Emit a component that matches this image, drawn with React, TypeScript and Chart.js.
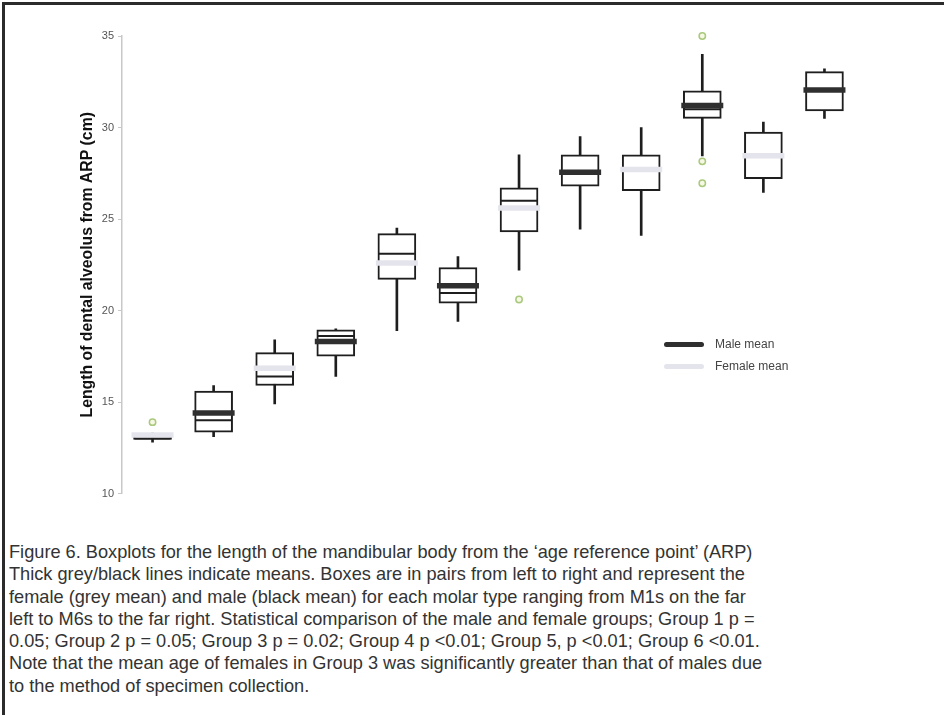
import React, { useEffect, useRef } from 'react';
import { Chart, registerables } from 'chart.js';

Chart.register(...registerables);

// Boxes in pairs: female then male for each molar type M1..M6
const CATEGORIES = ['M1 F', 'M1 M', 'M2 F', 'M2 M', 'M3 F', 'M3 M', 'M4 F', 'M4 M', 'M5 F', 'M5 M', 'M6 F', 'M6 M'];
const SEX = ['F', 'M', 'F', 'M', 'F', 'M', 'F', 'M', 'F', 'M', 'F', 'M'];
const WHISKER_LOW = [12.8, 13.1, 14.9, 16.4, 18.9, 19.4, 22.2, 24.45, 24.1, 28.45, 26.45, 30.5];
const Q1 = [12.95, 13.35, 15.9, 17.5, 21.7, 20.4, 24.3, 26.8, 26.55, 30.5, 27.2, 30.9];
const MEDIAN = [13.0, 14.0, 16.4, 18.6, 23.1, 20.95, 26.0, 27.55, 27.7, 31.0, 28.45, 32.05];
const Q3 = [13.1, 15.6, 17.7, 18.95, 24.2, 22.35, 26.7, 28.5, 28.5, 32.0, 29.75, 33.05];
const WHISKER_HIGH = [13.3, 15.9, 18.4, 19.0, 24.5, 22.95, 28.5, 29.5, 30.0, 34.0, 30.3, 33.2];
const MEAN = [13.2, 14.4, 16.85, 18.3, 22.6, 21.35, 25.6, 27.55, 27.7, 31.2, 28.45, 32.05];
const OUTLIER_CATEGORY = ['M1 F', 'M4 F', 'M5 M', 'M5 M', 'M5 M'];
const OUTLIER_VALUE = [13.9, 20.6, 35.0, 28.15, 26.95];
const Y_TICKS = [10, 15, 20, 25, 30, 35];
const Y_TITLE = 'Length of dental alveolus from ARP (cm)';
const LEGEND_LABELS = ['Male mean', 'Female mean'];

const CAPTION_LINES = [
  'Figure 6. Boxplots for the length of the mandibular body from the \u2018age reference point\u2019 (ARP)',
  'Thick grey/black lines indicate means. Boxes are in pairs from left to right and represent the',
  'female (grey mean) and male (black mean) for each molar type ranging from M1s on the far',
  'left to M6s to the far right. Statistical comparison of the male and female groups; Group 1 p =',
  '0.05; Group 2 p = 0.05; Group 3 p = 0.02; Group 4 p <0.01; Group 5, p <0.01; Group 6 <0.01.',
  'Note that the mean age of females in Group 3 was significantly greater than that of males due',
  'to the method of specimen collection.',
];

const MALE_COLOR = '#2f2f2f';
const FEMALE_COLOR = '#e4e4ec';
const LINE_COLOR = '#1e1e1e';

export default function App() {
  const canvasRef = useRef<HTMLCanvasElement | null>(null);

  useEffect(() => {
    if (!canvasRef.current) return;
    const meanColors = SEX.map((s) => (s === 'M' ? MALE_COLOR : FEMALE_COLOR));
    const chart = new Chart(canvasRef.current, {
      type: 'bar',
      data: {
        labels: CATEGORIES,
        datasets: [
          {
            type: 'line',
            label: 'outliers',
            data: OUTLIER_CATEGORY.map((c, i) => ({ x: c, y: OUTLIER_VALUE[i] })) as any,
            showLine: false,
            clip: false,
            pointRadius: 3.2,
            pointBackgroundColor: '#f6f7e4',
            pointBorderColor: '#a9c97c',
            pointBorderWidth: 1.5,
            order: 1,
          } as any,
          {
            type: 'line',
            label: 'mean',
            data: MEAN,
            showLine: false,
            clip: false,
            pointStyle: 'line',
            pointRadius: 21,
            pointBorderWidth: 5.5,
            pointBorderColor: meanColors,
            order: 2,
          } as any,
          {
            type: 'line',
            label: 'median',
            data: MEDIAN,
            showLine: false,
            pointStyle: 'line',
            pointRadius: 18,
            pointBorderWidth: 2,
            pointBorderColor: LINE_COLOR,
            order: 3,
          } as any,
          {
            type: 'bar',
            label: 'box',
            data: Q1.map((q, i) => [q, Q3[i]]) as any,
            backgroundColor: '#ffffff',
            borderColor: LINE_COLOR,
            borderWidth: 2,
            borderSkipped: false,
            barThickness: 38,
            grouped: false,
            order: 4,
          } as any,
          {
            type: 'bar',
            label: 'whisker',
            data: WHISKER_LOW.map((l, i) => [l, WHISKER_HIGH[i]]) as any,
            backgroundColor: LINE_COLOR,
            borderWidth: 0,
            barThickness: 2,
            grouped: false,
            order: 5,
          } as any,
        ],
      },
      options: {
        responsive: false,
        animation: false,
        events: [],
        layout: { padding: { left: 74, right: 89, top: 36, bottom: 24 } },
        plugins: { legend: { display: false }, tooltip: { enabled: false } },
        scales: {
          x: { display: false, offset: true },
          y: {
            min: 10,
            max: 35,
            afterFit: (scale: any) => {
              scale.width = 48;
            },
            afterBuildTicks: (scale: any) => {
              scale.ticks = Y_TICKS.map((v) => ({ value: v }));
            },
            ticks: {
              color: '#555',
              padding: 4,
              font: { family: 'Liberation Sans, Arial, sans-serif', size: 11 },
            },
            grid: { drawOnChartArea: false, drawTicks: true, tickLength: 4, color: '#c8c8c8', lineWidth: 1 },
            border: { display: true, color: '#c8c8c8', width: 1.5 },
            title: {
              display: true,
              text: Y_TITLE,
              color: '#111',
              padding: { top: 4, bottom: 0 },
              font: { family: 'Liberation Sans, Arial, sans-serif', size: 15.8, weight: 'bold' },
            },
          },
        },
      },
    });
    return () => chart.destroy();
  }, []);

  return (
    <div
      style={{
        position: 'absolute',
        left: 0,
        top: 0,
        width: 944,
        height: 715,
        background: '#fff',
        overflow: 'hidden',
      }}
    >
      <div
        style={{
          position: 'absolute',
          left: 2,
          top: 2,
          width: 960,
          height: 730,
          borderLeft: '3px solid #2b2b2b',
          borderTop: '3px solid #2b2b2b',
        }}
      />
      <canvas
        ref={canvasRef}
        width={944}
        height={520}
        style={{ position: 'absolute', left: 0, top: 0, width: 944, height: 520 }}
      />
      {LEGEND_LABELS.map((lab, i) => (
        <div
          key={lab}
          style={{
            position: 'absolute',
            left: 664,
            top: 336 + i * 22,
            height: 16,
            display: 'flex',
            alignItems: 'center',
            fontFamily: 'Liberation Sans, Arial, sans-serif',
            fontSize: 12,
            color: '#444',
          }}
        >
          <div
            style={{
              width: 40,
              height: 5,
              borderRadius: 2.5,
              background: i === 0 ? MALE_COLOR : FEMALE_COLOR,
              marginRight: 11,
            }}
          />
          <span>{lab}</span>
        </div>
      ))}
      <div
        style={{
          position: 'absolute',
          left: 9,
          top: 541,
          fontFamily: 'Liberation Sans, Arial, sans-serif',
          fontSize: 18.2,
          lineHeight: '22.3px',
          color: '#333',
        }}
      >
        {CAPTION_LINES.map((line, i) => (
          <div key={i} style={{ whiteSpace: 'nowrap' }}>
            {line}
          </div>
        ))}
      </div>
    </div>
  );
}
